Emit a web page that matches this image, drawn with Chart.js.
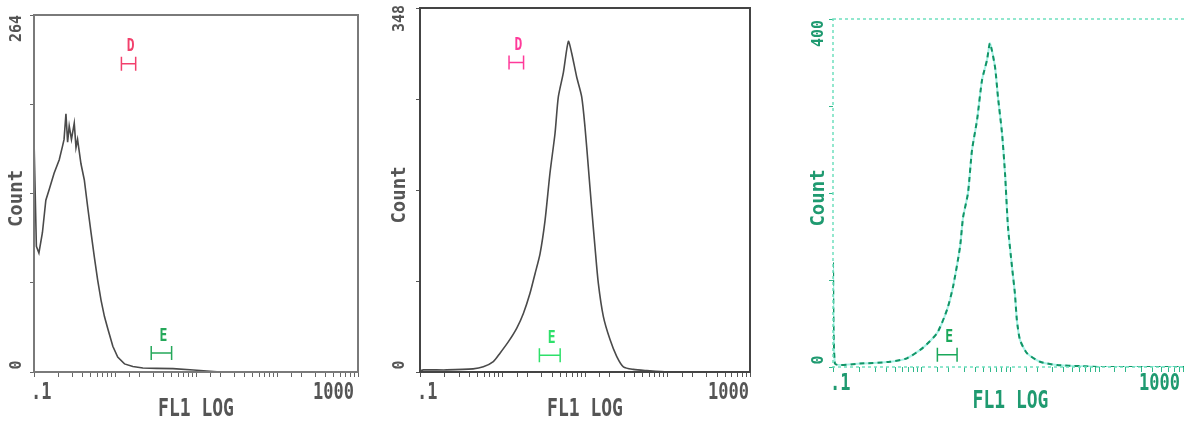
<!DOCTYPE html>
<html>
<head>
<meta charset="utf-8">
<title>FL1 LOG histograms</title>
<script src="https://cdn.jsdelivr.net/npm/chart.js@4.4.1/dist/chart.umd.min.js"></script>
<style>
  html, body { margin: 0; padding: 0; background: #fff; overflow: hidden; }
  body { width: 1184px; height: 421px; position: relative; }
  .panel { position: absolute; top: 0; height: 421px; }
  canvas { display: block; }
</style>
</head>
<body>
<div class="panel" style="left:0;width:380px"><canvas id="c1" width="380" height="421"></canvas></div>
<div class="panel" style="left:380px;width:400px"><canvas id="c2" width="400" height="421"></canvas></div>
<div class="panel" style="left:790px;width:404px"><canvas id="c3" width="404" height="421"></canvas></div>
<script>
// histogram values (FL1 LOG channel value, count)
const p1Fl1 = [0.1, 0.107, 0.115, 0.127, 0.14, 0.154, 0.177, 0.205, 0.225, 0.235, 0.248, 0.26, 0.272, 0.29, 0.314, 0.33, 0.345, 0.38, 0.418, 0.46, 0.506, 0.556, 0.611, 0.673, 0.741, 0.815, 0.94, 1.08, 1.31, 1.66, 2.21, 3.25, 5.2, 9.3, 13.6, 20, 1000];
const p1Count = [172, 93, 88, 103, 127, 135, 147, 157, 167, 172, 191, 170, 182, 172, 184, 166, 172, 154, 142, 122, 103, 85, 68, 53, 41, 32, 19, 11, 6, 4, 3, 2.7, 2.5, 1.5, 0.7, 0, 0];

const p2Fl1 = [0.1, 0.11, 0.21, 0.44, 0.585, 0.774, 0.933, 1.18, 1.49, 1.79, 2.15, 2.48, 2.85, 3.28, 3.76, 4.33, 4.75, 5.46, 6.28, 6.89, 7.93, 9.12, 10, 10.97, 12.0, 13.2, 14.5, 16.7, 20.1, 24.2, 29.2, 38.5, 56, 100, 1000];
const p2Count = [1, 2, 2, 3, 5, 10, 18, 29, 42, 56, 75, 94, 113, 145, 190, 228, 263, 286, 316, 305, 282, 263, 234, 196, 158, 120, 85, 53, 31, 15, 5, 2.5, 1.3, 0, 0];

const p3Fl1 = [0.1, 0.105, 0.2, 0.44, 0.68, 1.03, 1.49, 1.93, 2.25, 2.7, 2.92, 3.32, 3.68, 4.2, 4.78, 5.44, 5.87, 6.69, 7.23, 8.02, 8.67, 9.37, 10.4, 11.2, 11.8, 12.8, 15.3, 21.5, 33.4, 60.7, 100, 1000];
const p3Count = [120, 4, 4, 6, 10, 22, 39, 66, 92, 138, 172, 200, 249, 284, 330, 353, 372, 345, 310, 269, 223, 161, 115, 85, 54, 31, 16, 6, 2.3, 1, 0, 0];

// axis ranges and labels
const countMax = [264, 348, 400];
const fl1Min = 0.1;
const fl1Max = 1000;
const fl1TickLabels = ['.1', '1000'];
const xTitle = 'FL1 LOG';
const yTitle = 'Count';

// gate markers: name, low and high FL1 value, count level
const gate1Names = ['D', 'E'];
const gate1Lo = [1.2, 2.8];
const gate1Hi = [1.8, 5.0];
const gate1Level = [228, 14];

const gate2Names = ['D', 'E'];
const gate2Lo = [1.2, 2.8];
const gate2Hi = [1.8, 5.0];
const gate2Level = [296, 16];

const gate3Names = ['E'];
const gate3Lo = [1.5];
const gate3Hi = [2.5];
const gate3Level = [14];

const FONT = '"DejaVu Sans Mono", "Liberation Mono", monospace';

function toPoints(xs, ys) {
    return xs.map((v, i) => ({ x: v, y: ys[i] }));
}

// draw text, optionally stretched vertically (the original font is tall and narrow)
function drawText(ctx, text, x, y, opt) {
    ctx.save();
    ctx.translate(x, y);
    if (opt.rotate) ctx.rotate(-Math.PI / 2);
    ctx.scale(1, opt.stretch || 1);
    ctx.font = 'bold ' + opt.size + 'px ' + FONT;
    ctx.fillStyle = opt.color;
    ctx.textAlign = opt.align || 'center';
    ctx.textBaseline = 'middle';
    ctx.fillText(text, 0, 0);
    ctx.restore();
}

// frame, labels and gate brackets
const panelDecor = {
    id: 'panelDecor',
    afterDatasetsDraw(chart, args, o) {
        const { ctx, chartArea: a, scales: { x, y } } = chart;
        ctx.save();
        ctx.strokeStyle = o.boxColor;
        ctx.lineWidth = o.boxWidth;
        ctx.setLineDash(o.boxDash || []);
        ctx.strokeRect(a.left, a.top, a.right - a.left, a.bottom - a.top);
        ctx.setLineDash([]);

        // x tick labels
        const xl = x.getPixelForValue(fl1Min);
        const xr = x.getPixelForValue(fl1Max);
        drawText(ctx, fl1TickLabels[0], xl - 3, a.bottom + o.tickLabelDy, { size: 17, stretch: 1.3, color: o.textColor, align: 'left' });
        drawText(ctx, fl1TickLabels[1], xr - o.endDx, a.bottom + o.tickLabelDy, { size: 17, stretch: 1.3, color: o.textColor, align: 'right' });
        drawText(ctx, xTitle, (a.left + a.right) / 2, a.bottom + o.titleDy, { size: 18, stretch: 1.35, color: o.textColor });

        // y labels, rotated
        const yx = a.left - o.yLabelDx;
        drawText(ctx, String(o.yMax), yx, y.getPixelForValue(o.yMax) + o.topDy, { size: 15, color: o.textColor, align: 'right', rotate: true });
        drawText(ctx, '0', yx, y.getPixelForValue(0) - 7, { size: 15, color: o.textColor, rotate: true });
        drawText(ctx, yTitle, yx, (a.top + a.bottom) / 2 + 5, { size: 19, color: o.textColor, rotate: true });

        // gates
        o.gates.names.forEach((name, i) => {
            const x0 = x.getPixelForValue(o.gates.lo[i]);
            const x1 = x.getPixelForValue(o.gates.hi[i]);
            const py = y.getPixelForValue(o.gates.level[i]);
            const col = o.gateColors[name];
            ctx.strokeStyle = col;
            ctx.lineWidth = 1.5;
            ctx.beginPath();
            ctx.moveTo(x0, py); ctx.lineTo(x1, py);
            ctx.moveTo(x0, py - 7); ctx.lineTo(x0, py + 7);
            ctx.moveTo(x1, py - 7); ctx.lineTo(x1, py + 7);
            ctx.stroke();
            drawText(ctx, name, (x0 + x1) / 2 + 2, py - 17, { size: 13, stretch: 1.35, color: col });
        });
        ctx.restore();
    }
};

function makeChart(id, datasets, yMax, pad, decor, axisColor) {
    return new Chart(document.getElementById(id), {
        type: 'line',
        data: { datasets: datasets },
        options: {
            responsive: false,
            animation: false,
            devicePixelRatio: 1,
            layout: { padding: pad },
            plugins: {
                legend: { display: false },
                tooltip: { enabled: false },
                panelDecor: Object.assign({ yMax: yMax }, decor)
            },
            elements: { point: { radius: 0 }, line: { tension: 0 } },
            scales: {
                x: {
                    type: 'logarithmic',
                    min: fl1Min,
                    max: fl1Max,
                    ticks: { display: false },
                    border: { display: false },
                    grid: { drawOnChartArea: false, tickLength: 5, color: axisColor }
                },
                y: {
                    min: 0,
                    max: yMax,
                    ticks: { display: false, stepSize: yMax / 4 },
                    border: { display: false },
                    grid: { drawOnChartArea: false, tickLength: 4, color: axisColor }
                }
            }
        },
        plugins: [panelDecor]
    });
}

// panel 1
makeChart('c1', [{
    data: toPoints(p1Fl1, p1Count),
    borderColor: '#4a4a4a',
    borderWidth: 1.6
}], countMax[0], { left: 30, right: 22, top: 15, bottom: 44 }, {
    boxColor: '#7a7a7a', boxWidth: 2, textColor: '#555',
    tickLabelDy: 21, titleDy: 38, endDx: 4, yLabelDx: 17, topDy: 0,
    gates: { names: gate1Names, lo: gate1Lo, hi: gate1Hi, level: gate1Level },
    gateColors: { D: '#f2406c', E: '#25a85a' }
}, '#666');

// panel 2
makeChart('c2', [{
    data: toPoints(p2Fl1, p2Count),
    borderColor: '#4a4a4a',
    borderWidth: 1.6,
    tension: 0.25
}], countMax[1], { left: 36, right: 30, top: 8, bottom: 44 }, {
    boxColor: '#444', boxWidth: 2, textColor: '#555',
    tickLabelDy: 21, titleDy: 38, endDx: 1, yLabelDx: 20, topDy: -3,
    gates: { names: gate2Names, lo: gate2Lo, hi: gate2Hi, level: gate2Level },
    gateColors: { D: '#ff3a9a', E: '#2ee06a' }
}, '#555');

// panel 3 (dotted, green print) - first dataset is drawn on top
makeChart('c3', [{
    data: toPoints(p3Fl1, p3Count),
    borderColor: '#129466',
    borderWidth: 2,
    borderDash: [5, 4],
    tension: 0.2
}, {
    data: toPoints(p3Fl1, p3Count),
    borderColor: '#a6f2e6',
    borderWidth: 2,
    tension: 0.2
}], countMax[2], { left: 39, right: 6, top: 19, bottom: 49 }, {
    boxColor: '#6fe0bf', boxWidth: 1.5, boxDash: [3, 3], textColor: '#1f9a70',
    tickLabelDy: 17, titleDy: 35, endDx: 8, yLabelDx: 14, topDy: 1,
    gates: { names: gate3Names, lo: gate3Lo, hi: gate3Hi, level: gate3Level },
    gateColors: { E: '#1aa85a' }
}, '#2fb88a');
</script>
</body>
</html>
